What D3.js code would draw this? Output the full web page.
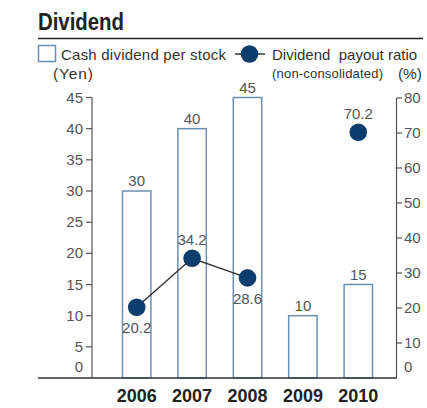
<!DOCTYPE html>
<html><head><meta charset="utf-8">
<script src="https://cdn.jsdelivr.net/npm/d3@7"></script>
<style>body{margin:0;background:#fff}svg{display:block;font-family:"Liberation Sans",Arial,sans-serif}</style>
</head><body><svg id="c" width="427" height="408"></svg>
<script>
const years = ["2006","2007","2008","2009","2010"];
const cashDividend = [30, 40, 45, 10, 15];
const payoutRatio = [20.2, 34.2, 28.6, null, 70.2];
const leftTicks = [0,5,10,15,20,25,30,35,40,45];
const rightTicks = [0,10,20,30,40,50,60,70,80];
const payoutLabelPos = ["below","above","below",null,"above"];

const svg = d3.select("#c");
const x = d3.scaleBand().domain(years).range([109,386]).paddingInner(0.46).paddingOuter(0.23);
const yL = d3.scaleLinear().domain([0,45]).range([378,97.5]);
const yR = d3.scaleLinear().domain([0,80]).range([378,98]);
const grey = "#555", barStroke = "#6a8fb3", navy = "#0b3e6d";

// title
svg.append("text").attr("x",38).attr("y",30).attr("font-size",23).attr("font-weight","bold")
  .attr("fill","#222").attr("textLength",86).attr("lengthAdjust","spacingAndGlyphs").text("Dividend");
svg.append("line").attr("x1",38).attr("x2",423).attr("y1",38.5).attr("y2",38.5).attr("stroke","#222").attr("stroke-width",1.3);

// legend
svg.append("rect").attr("x",38.5).attr("y",45.5).attr("width",17).attr("height",16).attr("fill","#fff").attr("stroke",barStroke).attr("stroke-width",1.5);
svg.append("text").attr("x",61).attr("y",60).attr("font-size",15).attr("fill","#333").attr("textLength",165).text("Cash dividend per stock");
svg.append("text").attr("x",53).attr("y",79).attr("font-size",15.5).attr("fill","#333").attr("textLength",40).text("(Yen)");
svg.append("line").attr("x1",235).attr("x2",265).attr("y1",54).attr("y2",54).attr("stroke","#333").attr("stroke-width",1.5);
svg.append("circle").attr("cx",249.5).attr("cy",54).attr("r",8.8).attr("fill",navy);
svg.append("text").attr("x",272).attr("y",60).attr("font-size",15).attr("fill","#333").style("white-space","pre").text("Dividend  payout ratio");
svg.append("text").attr("x",272).attr("y",78).attr("font-size",13).attr("fill","#333").attr("textLength",111).text("(non-consolidated)");
svg.append("text").attr("x",398).attr("y",79).attr("font-size",15.5).attr("fill","#333").attr("textLength",24).text("(%)");

// left axis
const gL = svg.append("g");
gL.append("line").attr("x1",92).attr("x2",92).attr("y1",yL(45)).attr("y2",378).attr("stroke",grey).attr("stroke-width",1.2);
leftTicks.forEach(t=>{
  if(t>0) gL.append("line").attr("x1",86).attr("x2",92).attr("y1",yL(t)).attr("y2",yL(t)).attr("stroke",grey).attr("stroke-width",1.2);
  gL.append("text").attr("x",83).attr("y",(t>0?yL(t):367)+5).attr("text-anchor","end").attr("font-size",15).attr("fill",grey).text(t);
});
// right axis
const gR = svg.append("g");
gR.append("line").attr("x1",396.5).attr("x2",396.5).attr("y1",yR(80)).attr("y2",378).attr("stroke",grey).attr("stroke-width",1.2);
rightTicks.forEach(t=>{
  if(t>0) gR.append("line").attr("x1",396.5).attr("x2",402).attr("y1",yR(t)).attr("y2",yR(t)).attr("stroke",grey).attr("stroke-width",1.2);
  gR.append("text").attr("x",404).attr("y",(t>0?yR(t):367)+5).attr("font-size",15).attr("fill",grey).text(t);
});

// bars
svg.selectAll(".bar").data(years).enter().append("rect")
  .attr("x",d=>x(d)+0.75).attr("y",(d,i)=>yL(cashDividend[i]))
  .attr("width",x.bandwidth()-1.5).attr("height",(d,i)=>378-yL(cashDividend[i]))
  .attr("fill","#fff").attr("stroke",barStroke).attr("stroke-width",1.5);
svg.selectAll(".bl").data(years).enter().append("text")
  .attr("x",d=>x(d)+x.bandwidth()/2).attr("y",(d,i)=>yL(cashDividend[i])-5)
  .attr("text-anchor","middle").attr("font-size",15).attr("fill",grey).text((d,i)=>cashDividend[i]);

// baseline
svg.append("line").attr("x1",38).attr("x2",397).attr("y1",378).attr("y2",378).attr("stroke","#333").attr("stroke-width",1.3);

// line
const pts = years.map((d,i)=>({d,v:payoutRatio[i],pos:payoutLabelPos[i]}));
const line = d3.line().defined(p=>p.v!=null).x(p=>x(p.d)+x.bandwidth()/2).y(p=>yR(p.v));
svg.append("path").attr("d",line(pts)).attr("fill","none").attr("stroke","#333").attr("stroke-width",1.5);
const valid = pts.filter(p=>p.v!=null);
svg.selectAll(".dot").data(valid).enter().append("circle")
  .attr("cx",p=>x(p.d)+x.bandwidth()/2).attr("cy",p=>yR(p.v)).attr("r",8.8).attr("fill",navy);
svg.selectAll(".dl").data(valid).enter().append("text")
  .attr("x",p=>x(p.d)+x.bandwidth()/2).attr("y",p=>p.pos==="above"?yR(p.v)-13:yR(p.v)+26)
  .attr("text-anchor","middle").attr("font-size",15).attr("fill",grey).text(p=>p.v.toFixed(1));

// x labels
svg.selectAll(".xl").data(years).enter().append("text")
  .attr("x",d=>x(d)+x.bandwidth()/2).attr("y",401.5).attr("text-anchor","middle")
  .attr("font-size",18).attr("font-weight","bold").attr("fill","#222").text(d=>d);
</script></body></html>
